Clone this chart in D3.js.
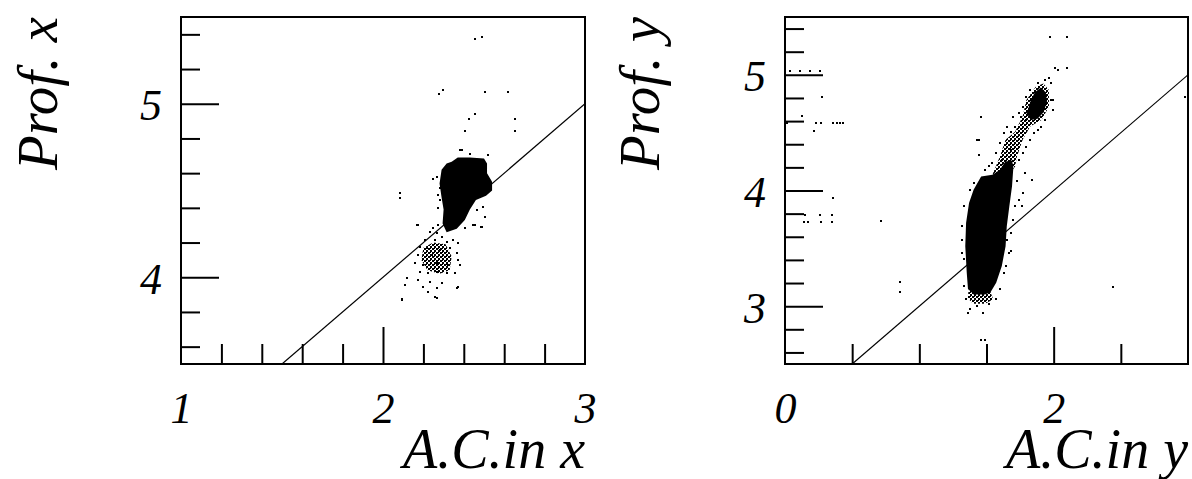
<!DOCTYPE html>
<html>
<head>
<meta charset="utf-8">
<script src="https://cdnjs.cloudflare.com/ajax/libs/d3/7.8.5/d3.min.js"></script>
<style>
body { margin: 0; background: #fff; }
text { font-family: "Liberation Serif", "DejaVu Serif", serif; font-style: italic; fill: #000; }
</style>
</head>
<body>
<div id="chart"></div>
<script>
// ---- left panel: Prof. x vs A.C.in x ----
var leftXDomain = [1, 3];
var leftYDomain = [3.5, 5.5];
var leftXLabels = [1, 2, 3];
var leftXMajor = [2];
var leftXMinor = [1.2, 1.4, 1.6, 1.8, 2.2, 2.4, 2.6, 2.8];
var leftYLabels = [4, 5];
var leftYMinor = [3.6, 3.8, 4.2, 4.4, 4.6, 4.8, 5.2, 5.4];
var leftLine = [[1.5, 3.5], [3, 5]];

// dense core of the upper cluster (outline)
var leftCore = [[2.34, 4.665], [2.37, 4.69], [2.43, 4.69], [2.50, 4.685], [2.515, 4.656], [2.515, 4.60],
  [2.54, 4.55], [2.54, 4.50], [2.51, 4.47], [2.46, 4.445], [2.43, 4.39], [2.405, 4.33], [2.365, 4.28],
  [2.315, 4.26], [2.295, 4.31], [2.30, 4.39], [2.29, 4.46], [2.28, 4.54], [2.29, 4.62], [2.315, 4.655]];
// speckled part of the lower cluster
var leftLowCore = [[2.20, 4.17], [2.249, 4.20], [2.31, 4.19], [2.34, 4.12], [2.33, 4.04],
  [2.28, 4.02], [2.22, 4.04], [2.19, 4.10]];
var leftPoints = [
  [2.456, 5.372], [2.49, 5.385], [2.276, 5.057], [2.299, 5.08], [2.503, 5.066], [2.62, 5.066],
  [2.456, 4.94], [2.427, 4.914], [2.654, 4.914], [2.654, 4.843], [2.405, 4.843], [2.39, 4.732],
  [2.456, 4.30], [2.484, 4.29], [2.503, 4.35], [2.172, 4.30], [2.096, 3.876], [2.267, 3.882], [2.37, 3.945],
  [2.249, 4.566], [2.340, 4.506], [2.274, 4.474], [2.282, 4.445], [2.274, 4.397], [2.331, 4.39],
  [2.315, 4.358], [2.340, 4.349], [2.463, 4.39], [2.496, 4.406], [2.504, 4.349], [2.488, 4.291],
  [2.446, 4.301], [2.405, 4.282], [2.084, 4.483], [2.084, 4.454], [2.167, 4.301], [2.381, 4.733],
  [2.430, 4.713], [2.521, 4.704], [2.265, 4.579], [2.282, 4.512],
  [2.208, 4.214], [2.232, 4.262], [2.265, 4.253], [2.257, 4.214], [2.290, 4.233], [2.315, 4.205],
  [2.348, 4.214], [2.373, 4.195], [2.183, 4.176], [2.216, 4.166], [2.282, 4.157], [2.331, 4.166],
  [2.364, 4.138], [2.175, 4.128], [2.241, 4.128], [2.307, 4.118], [2.373, 4.099], [2.158, 4.080],
  [2.199, 4.070], [2.265, 4.080], [2.323, 4.070], [2.183, 4.032], [2.224, 4.023], [2.265, 4.032],
  [2.315, 4.023], [2.356, 4.023], [2.117, 3.994], [2.175, 3.984], [2.232, 3.974], [2.290, 3.968],
  [2.109, 3.955], [2.199, 3.946], [2.265, 3.936], [2.224, 3.917], [2.364, 3.936], [2.092, 3.869],
  [2.265, 3.879], [2.257, 3.888], [2.381, 4.070], [2.249, 4.282], [2.274, 4.301]
];

// ---- right panel: Prof. y vs A.C.in y ----
var rightXDomain = [0, 3];
var rightYDomain = [2.5, 5.5];
var rightXLabels = [0, 2];
var rightXMajor = [2];
var rightXMinor = [0.5, 1, 1.5, 2.5];
var rightYLabels = [3, 4, 5];
var rightYMinor = [2.6, 2.8, 3.2, 3.4, 3.6, 3.8, 4.2, 4.4, 4.6, 4.8, 5.2, 5.4];
var rightLine = [[0.5, 2.5], [3, 5]];

var rightCore = [[1.460, 4.122], [1.544, 4.136], [1.600, 4.179], [1.640, 4.25], [1.690, 4.26],
  [1.700, 4.20], [1.690, 4.036], [1.670, 3.863], [1.651, 3.691], [1.642, 3.519], [1.614, 3.347],
  [1.572, 3.203], [1.530, 3.12], [1.488, 3.10], [1.404, 3.10], [1.362, 3.15], [1.353, 3.289],
  [1.342, 3.519], [1.348, 3.72], [1.370, 3.892], [1.404, 4.007]];
var rightTail = [[1.37, 3.17], [1.52, 3.15], [1.55, 3.06], [1.49, 3.02], [1.40, 3.02], [1.36, 3.07]];
var rightBand = [[1.544, 4.136], [1.600, 4.294], [1.642, 4.438], [1.713, 4.509], [1.769, 4.639],
  [1.797, 4.782], [1.867, 4.897], [1.923, 4.926], [1.965, 4.868], [1.965, 4.725], [1.909, 4.610],
  [1.825, 4.553], [1.769, 4.438], [1.727, 4.294], [1.713, 4.208], [1.656, 4.122]];
var rightTop = [[1.80, 4.667], [1.83, 4.78], [1.86, 4.85], [1.905, 4.89], [1.94, 4.85],
  [1.95, 4.77], [1.925, 4.677], [1.88, 4.62], [1.83, 4.61]];
var rightPoints = [
  [1.971, 5.328], [2.1, 5.328], [2.007, 5.055], [2.035, 5.041], [2.1, 5.055], [1.965, 4.969],
  [1.979, 4.926], [1.993, 4.782], [1.46, 4.639], [1.446, 4.438], [1.432, 4.438], [1.446, 4.308],
  [1.755, 4.639], [1.698, 4.639], [1.839, 4.093], [1.684, 3.476], [2.442, 3.169], [0.716, 3.734],
  [0.856, 3.209], [0.856, 3.123], [1.46, 2.709], [1.488, 2.709], [1.362, 2.945], [1.474, 2.945],
  [2.976, 4.811],
  [0.037, 5.035], [0.112, 5.035], [0.186, 5.035], [0.26, 5.035], [0.273, 4.811], [0.124, 4.645],
  [0.017, 4.582], [0.231, 4.582], [0.266, 4.582], [0.36, 4.582], [0.385, 4.582], [0.41, 4.582],
  [0.435, 4.582], [0.216, 4.518], [0.36, 3.936], [0.149, 3.792], [0.26, 3.792], [0.347, 3.792],
  [0.141, 3.729], [0.173, 3.729], [0.266, 3.729], [0.347, 3.729],
  [1.334, 3.404], [1.319, 3.462], [1.376, 2.973], [1.432, 3.002], [1.516, 3.017], [1.572, 3.060],
  [1.600, 3.146], [1.628, 3.289], [1.642, 3.347], [1.670, 3.462], [1.656, 3.576], [1.684, 3.634],
  [1.698, 3.749], [1.713, 3.863], [1.741, 3.921], [1.769, 3.978], [1.763, 3.863], [1.727, 4.079],
  [1.783, 4.151], [1.741, 4.265], [1.769, 4.323], [1.797, 4.380], [1.825, 4.438], [1.853, 4.495],
  [1.881, 4.524], [1.909, 4.553], [1.937, 4.610], [1.993, 4.696], [1.979, 4.782], [1.937, 4.954],
  [1.881, 4.926], [1.825, 4.868], [1.797, 4.811], [1.769, 4.725], [1.741, 4.667], [1.713, 4.553],
  [1.684, 4.509], [1.628, 4.495], [1.600, 4.409], [1.572, 4.323], [1.544, 4.237], [1.516, 4.208],
  [1.488, 4.179], [1.404, 4.064], [1.376, 4.007], [1.334, 3.863], [1.319, 3.691], [1.314, 3.576],
  [1.334, 3.174], [1.348, 3.060], [1.558, 4.093], [1.614, 4.265], [1.656, 4.553], [1.797, 4.610],
  [1.853, 4.696], [1.713, 4.380], [1.684, 4.352]
];

var svg = d3.select("#chart").append("svg")
    .attr("width", 1192)
    .attr("height", 479);

// checker of 2px squares, stands in for areas of overlapping markers
var speckle = svg.append("defs").append("pattern")
    .attr("id", "speckle")
    .attr("patternUnits", "userSpaceOnUse")
    .attr("width", 4)
    .attr("height", 4);
speckle.append("rect").attr("x", 0).attr("y", 0).attr("width", 2).attr("height", 2).attr("fill", "#000");
speckle.append("rect").attr("x", 2).attr("y", 2).attr("width", 2).attr("height", 2).attr("fill", "#000");
speckle.append("rect").attr("x", 2).attr("y", 0).attr("width", 1).attr("height", 1).attr("fill", "#000");

var frameTop = 17, frameBottom = 364;

drawPanel({
  id: "left", x0: 181, x1: 585, titleX: 57,
  xDomain: leftXDomain, yDomain: leftYDomain,
  xLabels: leftXLabels, xMajor: leftXMajor, xMinor: leftXMinor,
  yLabels: leftYLabels, yMinor: leftYMinor,
  line: leftLine, blobs: [leftCore], halfBlobs: [leftLowCore], points: leftPoints,
  xTitle: "A.C.in x", yTitle: "Prof. x"
});

drawPanel({
  id: "right", x0: 785, x1: 1188, titleX: 659,
  xDomain: rightXDomain, yDomain: rightYDomain,
  xLabels: rightXLabels, xMajor: rightXMajor, xMinor: rightXMinor,
  yLabels: rightYLabels, yMinor: rightYMinor,
  line: rightLine, blobs: [rightCore, rightTop], halfBlobs: [rightBand, rightTail], points: rightPoints,
  xTitle: "A.C.in y", yTitle: "Prof. y"
});

function drawPanel(p) {
  var x = d3.scaleLinear().domain(p.xDomain).range([p.x0, p.x1]);
  var y = d3.scaleLinear().domain(p.yDomain).range([frameBottom, frameTop]);

  var g = svg.append("g");

  g.append("clipPath").attr("id", "clip-" + p.id)
    .append("rect")
    .attr("x", p.x0).attr("y", frameTop)
    .attr("width", p.x1 - p.x0).attr("height", frameBottom - frameTop);

  var plot = g.append("g").attr("clip-path", "url(#clip-" + p.id + ")");

  var outline = d3.line()
      .x(function(d) { return x(d[0]); })
      .y(function(d) { return y(d[1]); })
      .curve(d3.curveLinearClosed);

  plot.selectAll("path.halfblob").data(p.halfBlobs).enter().append("path")
      .attr("class", "halfblob")
      .attr("d", outline)
      .attr("fill", "url(#speckle)");

  plot.selectAll("path.blob").data(p.blobs).enter().append("path")
      .attr("class", "blob")
      .attr("d", outline)
      .attr("fill", "#000");

  plot.selectAll("rect.pt").data(p.points).enter().append("rect")
      .attr("class", "pt")
      .attr("x", function(d) { return Math.round(x(d[0])) - 1; })
      .attr("y", function(d) { return Math.round(y(d[1])) - 1; })
      .attr("width", 2)
      .attr("height", 2)
      .attr("fill", "#000");

  var fitLine = d3.line()
      .x(function(d) { return x(d[0]); })
      .y(function(d) { return y(d[1]); });

  plot.append("path")
      .attr("d", fitLine(p.line))
      .attr("fill", "none")
      .attr("stroke", "#000")
      .attr("stroke-width", 1.2);

  // ticks, pointing into the frame
  g.append("g")
      .attr("transform", "translate(0," + frameBottom + ")")
      .call(d3.axisBottom(x).tickValues(p.xMinor).tickSize(-20).tickFormat(""));
  g.append("g")
      .attr("transform", "translate(0," + frameBottom + ")")
      .call(d3.axisBottom(x).tickValues(p.xMajor).tickSize(-37).tickFormat(""));
  var xLabelAxis = g.append("g")
      .attr("transform", "translate(0," + frameBottom + ")")
      .call(d3.axisBottom(x).tickValues(p.xLabels).tickSize(0).tickFormat(d3.format("d")));
  xLabelAxis.selectAll("text")
      .attr("y", 59)
      .attr("dy", 0)
      .style("font-size", "44px");

  g.append("g")
      .attr("transform", "translate(" + p.x0 + ",0)")
      .call(d3.axisLeft(y).tickValues(p.yMinor).tickSize(-19).tickFormat(""));
  var yLabelAxis = g.append("g")
      .attr("transform", "translate(" + p.x0 + ",0)")
      .call(d3.axisLeft(y).tickValues(p.yLabels).tickSize(-38).tickFormat(d3.format("d")));
  yLabelAxis.selectAll("text")
      .attr("x", -19)
      .attr("dy", "0.36em")
      .style("font-size", "44px");

  g.selectAll(".domain").remove();
  g.selectAll(".tick line").attr("stroke", "#000").attr("stroke-width", 2);
  g.selectAll(".tick text").attr("fill", "#000").style("font-family", null);

  g.append("rect")
      .attr("x", p.x0).attr("y", frameTop)
      .attr("width", p.x1 - p.x0).attr("height", frameBottom - frameTop)
      .attr("fill", "none")
      .attr("stroke", "#000")
      .attr("stroke-width", 2);

  g.append("text")
      .attr("x", p.x1)
      .attr("y", 468)
      .attr("text-anchor", "end")
      .style("font-size", "56px")
      .text(p.xTitle);

  g.append("text")
      .attr("transform", "translate(" + p.titleX + "," + frameTop + ") rotate(-90)")
      .attr("text-anchor", "end")
      .style("font-size", "57px")
      .text(p.yTitle);
}
</script>
</body>
</html>
